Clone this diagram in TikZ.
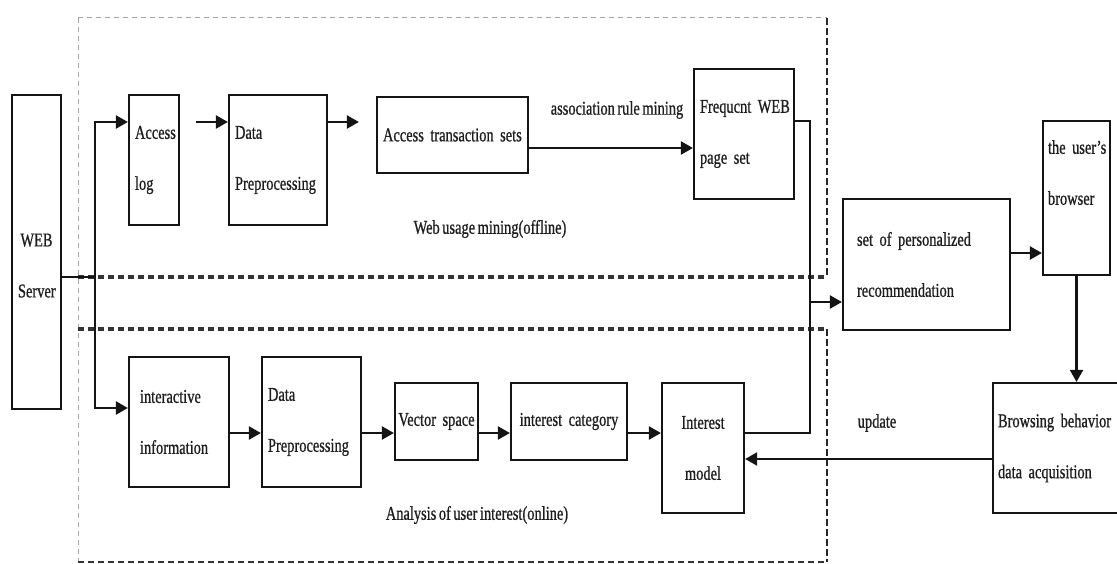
\documentclass[tikz,border=0pt]{standalone}
\usepackage{fontspec}
\newfontfamily\diagfont[FakeStretch=0.74,FakeBold=0.8,WordSpace=0.7]{Liberation Serif}
\usetikzlibrary{arrows.meta}
\definecolor{txt}{HTML}{1E1E1E}
\definecolor{ink}{HTML}{141414}
\begin{document}
\begin{tikzpicture}[x=1pt,y=-1pt,
  box/.style={draw=ink, line width=2.2pt, inner xsep=6pt, inner ysep=0pt,
    align=left, text=txt, font=\diagfont\fontsize{19.5}{51}\selectfont},
  cbox/.style={box, align=center},
  lbl/.style={text=txt, inner sep=0pt, font=\diagfont\fontsize{19.5}{22}\selectfont},
  link/.style={draw=ink, line width=2.2pt},
  arr/.style={link, -{Triangle[length=12pt,width=13pt]}},
  heavydash/.style={draw=black!80, line width=3.2pt, dash pattern=on 6pt off 4pt},
  edgedash/.style={draw=black!85, line width=1.6pt, dash pattern=on 7pt off 3pt},
  faintdash/.style={draw=black!35, line width=1pt, dash pattern=on 5pt off 4pt}]
\useasboundingbox (0,0) rectangle (1117,564);

% region frames: offline mining (top) and online analysis (bottom)
\draw[faintdash] (78,18) -- (827,18);
\draw[faintdash] (78,18) -- (78,562);
\draw[edgedash] (827,18) -- (827,278);
\draw[edgedash] (827,329) -- (827,562);
\draw[heavydash] (78,277) -- (827,277);
\draw[heavydash] (78,329) -- (827,329);
\draw[heavydash, line width=2.6pt] (78,562) -- (827,562);

% boxes
\node[cbox, text width=37pt, minimum height=314pt] (web) at (36.5,252)
  {\rule{0pt}{40pt}WEB\\Server};
\node[box, text width=38pt, minimum height=130pt] (alog) at (154,160) {Access\\log};
\node[box, text width=86pt, minimum height=130pt] (dp1) at (278,160) {Data\\Preprocessing};
\node[box, text width=139pt, minimum height=76pt] (ats) at (452.5,135) {Access transaction sets};
\node[box, text width=88pt, minimum height=130pt] (fwp) at (744,134)
  {\makebox[91pt][s]{Frequcnt WEB}\\page set};
\node[box, inner xsep=14pt, text width=139pt, minimum height=131pt] (spr) at (926.5,264.5)
  {\makebox[139pt][s]{set of personalized}\\recommendation};
\node[box, inner xsep=5pt, text width=57pt, minimum height=154pt] (ubr) at (1076.5,198)
  {\makebox[62pt][s]{the user’s}\\browser\\[0pt]\mbox{}};
\node[box, inner xsep=5pt, text width=124pt, minimum height=130pt] (bbd) at (1060,448)
  {\makebox[121pt][s]{Browsing behavior}\\data acquisition};

\node[box, inner xsep=11pt, text width=78pt, minimum height=130pt] (iinf) at (179,422)
  {interactive\\information};
\node[box, text width=87pt, minimum height=130pt] (dp2) at (311.5,422) {Data\\Preprocessing};
\node[cbox, inner xsep=2pt, text width=79pt, minimum height=77pt] (vsp) at (436.5,421.5) {Vector space};
\node[cbox, text width=104pt, minimum height=77pt] (icat) at (569,421.5) {interest category};
\node[cbox, text width=70pt, minimum height=130pt] (imod) at (703,448) {Interest\\model};

% free labels
\node[lbl] (armlbl) at (617,110) {association rule mining};
\node[lbl] (offlbl) at (490,229) {Web usage mining(offline)};
\node[lbl] (onlbl) at (477,515) {Analysis of user interest(online)};
\node[lbl] (updlbl) at (877,423) {update};

% web server fan-out
\coordinate (split) at (95,277);
\draw[link] (web.east |- split) -- (split);
\draw[arr] (split) |- (alog.west |- 0,122);
\draw[arr] (split) |- (iinf.west |- 0,408);

% offline chain
\draw[arr, shorten <=16pt] (alog.east |- 0,122) -- (dp1.west |- 0,122);
\draw[arr, shorten >=17pt] (dp1.east |- 0,122) -- (ats.west |- 0,122);
\draw[arr] (ats.east |- 0,148) -- (fwp.west |- 0,148);

% merge into the recommendation set
\coordinate (bus) at (810,302);
\draw[link] (fwp.east |- 0,121) -| (bus) |- (imod.east |- 0,433);
\draw[arr] (bus) -- (spr.west |- bus);
\draw[arr] (spr.east |- 0,253) -- (ubr.west |- 0,253);
\draw[arr] (ubr.south) -- (bbd.north -| ubr.south);
\draw[arr] (bbd.west |- 0,459) -- (imod.east |- 0,459);

% online chain
\draw[arr] (iinf.east |- 0,433) -- (dp2.west |- 0,433);
\draw[arr] (dp2.east |- 0,433) -- (vsp.west |- 0,433);
\draw[arr] (vsp.east |- 0,433) -- (icat.west |- 0,433);
\draw[arr] (icat.east |- 0,433) -- (imod.west |- 0,433);
\end{tikzpicture}
\end{document}
